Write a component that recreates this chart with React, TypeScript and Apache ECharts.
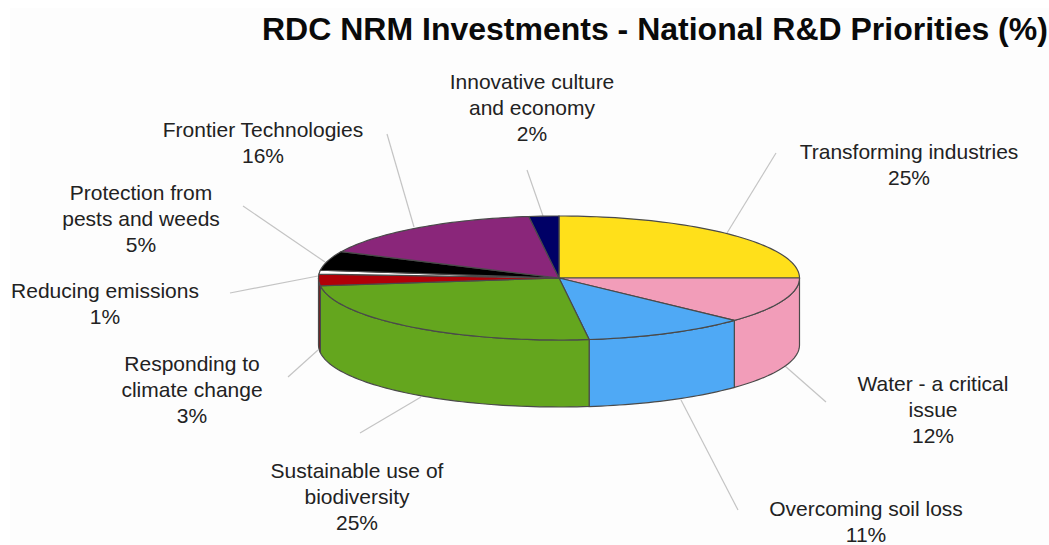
import React, { useEffect, useRef } from "react";
import * as echarts from "echarts";

const chartTitle = "RDC NRM Investments - National R&D Priorities (%)";
const categories = [
  "Transforming industries",
  "Water - a critical\nissue",
  "Overcoming soil loss",
  "Sustainable use of\nbiodiversity",
  "Responding to\nclimate change",
  "Reducing emissions",
  "Protection from\npests and weeds",
  "Frontier Technologies",
  "Innovative culture\nand economy",
];
const values = [25, 12, 11, 25, 3, 1, 5, 16, 2];
const topColors = ["#FFE01A", "#F29DB9", "#4FA9F5", "#64A61E", "#B00008", "#FFFFFF", "#000000", "#8A267A", "#000066"];
const wallColors = ["#FFE01A", "#F29DB9", "#4FA9F5", "#64A61E", "#7A1A1A", "#FFFFFF", "#000000", "#8A267A", "#000066"];
// Label anchor: centre x and the vertical middle of the text block.
const labelAnchors = [
  [909, 164], [933, 409], [866, 521], [357, 496], [192, 389], [105, 303], [141, 218], [263, 142], [532, 107],
];
// Leader segments, from the label side to the rim of the disc.
const leaders = [
  [776, 153, 727, 233], [826, 402, 785, 366], [738, 510, 681, 400], [360, 433, 421, 397], [288, 377, 318, 350],
  [230, 293, 318, 276], [243, 206, 325, 262], [387, 134, 414, 227], [527, 170, 543, 216],
];

const WALL_DEPTH = 67;
const OUTLINE = "#4A4A4A";
const FONT = "'Liberation Sans', Arial, sans-serif";

// Running totals give each slice its start and end share of the disc.
const spans: number[][] = [];
values.reduce((sum, v, i) => {
  spans.push([sum, sum + v, i]);
  return sum + v;
}, 0);

const rimPoint = (api: any, deg: number, drop = 0) => {
  const rad = (deg * Math.PI) / 180;
  const p = api.coord([Math.sin(rad), Math.cos(rad)]);
  return [p[0], p[1] + drop];
};

const arcPoints = (api: any, from: number, to: number, drop = 0) => {
  const steps = Math.max(2, Math.ceil(Math.abs(to - from) / 1.5));
  const pts: number[][] = [];
  for (let k = 0; k <= steps; k++) pts.push(rimPoint(api, from + ((to - from) * k) / steps, drop));
  return pts;
};

const renderTop = (_: any, api: any) => {
  const i = api.value(2);
  const a = (api.value(0) / 100) * 360;
  const b = (api.value(1) / 100) * 360;
  return {
    type: "polygon",
    shape: { points: [api.coord([0, 0]), ...arcPoints(api, a, b)] },
    style: { fill: topColors[i], stroke: OUTLINE, lineWidth: 1.2 },
  };
};

// Only the front half of the rim (90deg to 270deg) shows a wall.
const renderWall = (_: any, api: any) => {
  const i = api.value(2);
  const a = Math.max((api.value(0) / 100) * 360, 90);
  const b = Math.min((api.value(1) / 100) * 360, 270);
  if (b <= a) return null;
  return {
    type: "polygon",
    shape: { points: [...arcPoints(api, a, b), ...arcPoints(api, b, a, WALL_DEPTH)] },
    style: { fill: wallColors[i], stroke: OUTLINE, lineWidth: 1.2 },
  };
};

export default function App() {
  const ref = useRef<HTMLDivElement>(null);
  useEffect(() => {
    document.body.style.margin = "0";
    document.body.style.background = "#ffffff";
    const chart = echarts.init(ref.current!, undefined, { renderer: "svg" });
    chart.setOption({
      animation: false,
      backgroundColor: "#ffffff",
      title: {
        text: chartTitle,
        left: 257,
        top: 8,
        textStyle: { fontFamily: FONT, fontSize: 32, fontWeight: "bold", color: "#0a0a0a" },
      },
      grid: { left: 318.5, width: 481, top: 216, height: 124 },
      xAxis: { type: "value", min: -1, max: 1, show: false },
      yAxis: { type: "value", min: -1, max: 1, show: false },
      graphic: [
        {
          type: "rect",
          z: 0,
          shape: { x: 10, y: 8, width: 1039, height: 537 },
          style: { fill: "#FDFDFD" },
        },
        ...leaders.map((l) => ({
          type: "line",
          z: 1,
          shape: { x1: l[0], y1: l[1], x2: l[2], y2: l[3] },
          style: { stroke: "#C4C4C4", lineWidth: 1.2 },
        })),
        ...categories.map((name, i) => ({
          type: "text",
          z: 5,
          x: labelAnchors[i][0],
          y: labelAnchors[i][1],
          style: {
            text: `${name}\n${values[i]}%`,
            fontFamily: FONT,
            fontSize: 21,
            lineHeight: 26,
            fill: "#222222",
            textAlign: "center",
            textVerticalAlign: "middle",
          },
        })),
      ],
      series: [
        { type: "custom", z: 2, clip: false, silent: true, renderItem: renderWall, data: spans },
        { type: "custom", z: 3, clip: false, silent: true, renderItem: renderTop, data: spans },
      ],
    });
    return () => chart.dispose();
  }, []);
  return <div ref={ref} style={{ width: 1049, height: 545 }} />;
}
